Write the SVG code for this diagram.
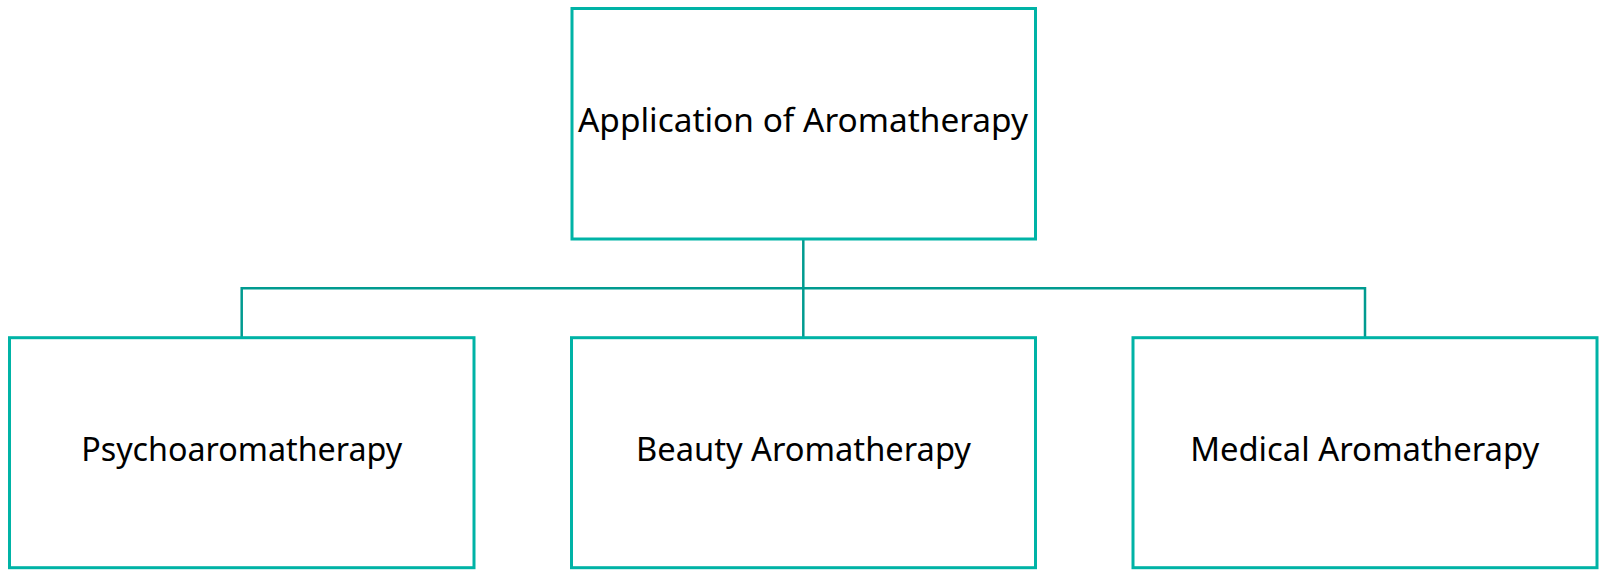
<svg xmlns="http://www.w3.org/2000/svg" width="1599" height="570" viewBox="0 0 1599 570">
<style>
.box{fill:#ffffff;stroke:#00B3A6;stroke-width:3}
.conn{fill:none;stroke:#009B90;stroke-width:2.5}
.lbl{font-family:"Noto Sans","Open Sans",sans-serif;font-size:33px;fill:#000000;text-anchor:middle}
</style>
<rect width="1599" height="570" fill="#ffffff"/>
<g id="connectors">
<path class="conn" d="M803.3 239 V337.7"/>
<path class="conn" d="M241.7 337.7 V288.3 H1365 V337.7"/>
</g>
<g id="root">
<rect class="box" x="572" y="8.5" width="463.5" height="230.5"/>
<text class="lbl" x="803" y="131.7" textLength="450" lengthAdjust="spacingAndGlyphs">Application of Aromatherapy</text>
</g>
<g id="psycho">
<rect class="box" x="9.5" y="337.7" width="464.5" height="230"/>
<text class="lbl" x="241.7" y="460.7" textLength="321" lengthAdjust="spacingAndGlyphs">Psychoaromatherapy</text>
</g>
<g id="beauty">
<rect class="box" x="571.5" y="337.7" width="464" height="230"/>
<text class="lbl" x="803.5" y="460.7" textLength="335" lengthAdjust="spacingAndGlyphs">Beauty Aromatherapy</text>
</g>
<g id="medical">
<rect class="box" x="1133" y="337.7" width="464" height="230"/>
<text class="lbl" x="1364.7" y="460.7" textLength="349" lengthAdjust="spacingAndGlyphs">Medical Aromatherapy</text>
</g>
</svg>
